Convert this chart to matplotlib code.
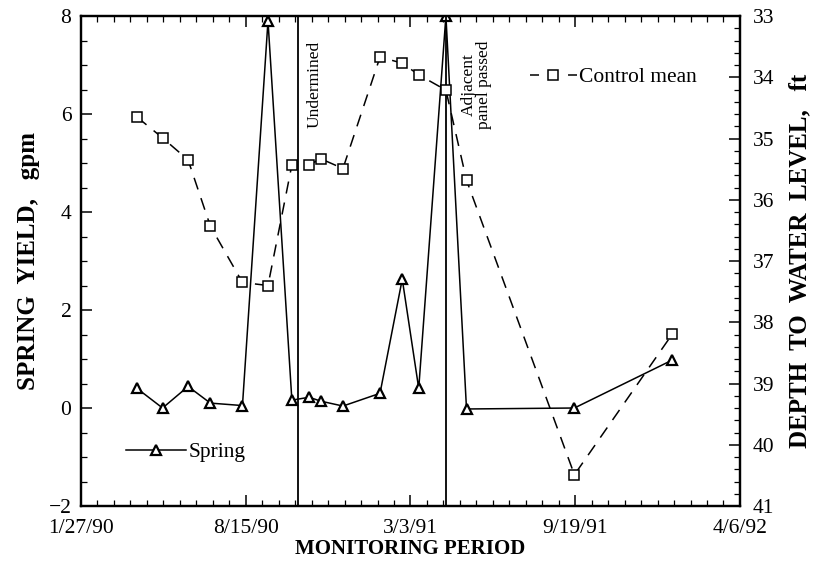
import numpy as np
import matplotlib.pyplot as plt
import matplotlib.dates as mdates
from matplotlib.ticker import FixedLocator, MultipleLocator
from matplotlib.lines import Line2D
from datetime import datetime, timedelta

plt.rcParams['font.family'] = ['Liberation Serif', 'DejaVu Serif']

# sampling dates (shared by both series)
dates = ['1990-04-05', '1990-05-06', '1990-06-06', '1990-07-03', '1990-08-11',
         '1990-09-11', '1990-10-10', '1990-10-31', '1990-11-14', '1990-12-11',
         '1991-01-25', '1991-02-21', '1991-03-13', '1991-04-15', '1991-05-10',
         '1991-09-18', '1992-01-15']
# spring yield, gpm
spring = [0.40, 0.00, 0.44, 0.10, 0.05, 7.90, 0.16, 0.22, 0.14, 0.04,
          0.30, 2.63, 0.40, 8.00, -0.02, 0.00, 0.98]
# control mean depth to water, ft
control = [34.65, 34.99, 35.35, 36.43, 37.35, 37.40, 35.43, 35.43, 35.33, 35.49,
           33.67, 33.77, 33.96, 34.21, 35.68, 40.49, 38.19]

tick_dates = ['1990-01-27', '1990-08-15', '1991-03-03', '1991-09-19', '1992-04-06']
tick_labels = ['1/27/90', '8/15/90', '3/3/91', '9/19/91', '4/6/92']
events = ['1990-10-17', '1991-04-15']
event_labels = ['Undermined', 'Adjacent\npanel passed']

d = [datetime.strptime(s, '%Y-%m-%d') for s in dates]
td = [datetime.strptime(s, '%Y-%m-%d') for s in tick_dates]
ev = [datetime.strptime(s, '%Y-%m-%d') for s in events]

fig = plt.figure(figsize=(8.2, 5.66), dpi=100)
ax = fig.add_axes([0.0988, 0.106, 0.8036, 0.8657])
ax2 = ax.twinx()

ax2.plot(d, control, color='black', lw=1.1, dashes=(8, 6), marker='s', ms=7.5,
         mfc='white', mec='black', mew=1.1)
ax.plot(d, spring, color='black', lw=1.1, marker='^', ms=7,
        mfc='white', mec='black', mew=1.6, label='Spring')

for e in ev:
    ax.axvline(e, color='black', lw=1.3)

ax.text(ev[0] + timedelta(days=21), 7.5, event_labels[0], rotation=90,
        ha='center', va='top', fontsize=12.5)
ax.text(ev[1] + timedelta(days=37), 7.5, event_labels[1], rotation=90,
        ha='center', va='top', fontsize=12.5, linespacing=0.95)

ax.set_xlim(td[0], td[-1])
ax.set_ylim(-2, 8)
ax2.set_ylim(41, 33)

ax.xaxis.set_major_locator(FixedLocator(mdates.date2num(td)))
ax.set_xticklabels(tick_labels)
start = mdates.date2num(td[0])
ax.xaxis.set_minor_locator(FixedLocator(start + np.arange(0, 801, 20)))
ax.yaxis.set_major_locator(MultipleLocator(2))
ax.yaxis.set_minor_locator(MultipleLocator(0.5))
ax2.yaxis.set_major_locator(MultipleLocator(1))
ax2.yaxis.set_minor_locator(MultipleLocator(0.2))

ax.tick_params(which='major', direction='in', length=8, width=1.1, labelsize=15.5,
               top=True)
ax.tick_params(axis='x', which='major', pad=9)
ax.tick_params(axis='y', which='major', pad=7)
ax.tick_params(which='minor', direction='in', length=4, width=0.9, top=True)
ax2.tick_params(which='major', direction='in', length=8, width=1.1, labelsize=15.5, pad=9)
ax2.tick_params(which='minor', direction='in', length=4, width=0.9)

for a in (ax, ax2):
    for s in a.spines.values():
        s.set_linewidth(1.6)

ax.set_xlabel('MONITORING PERIOD', fontsize=15, fontweight='bold', labelpad=1)
ax.set_ylabel('SPRING  YIELD,   gpm', fontsize=18, fontweight='bold', labelpad=6)
ax2.set_ylabel('DEPTH  TO  WATER  LEVEL,   ft', fontsize=18, fontweight='bold',
               labelpad=10)

ax.legend(loc='center left', bbox_to_anchor=(0.055, 0.11), frameon=False,
          fontsize=15.5, handlelength=2.8, handletextpad=0.1, borderaxespad=0)
ctrl_handle = Line2D([], [], color='black', lw=1.1, dashes=(5.9, 19), marker='s',
                     ms=7.5, mfc='white', mec='black', mew=1.1)
ax2.legend([ctrl_handle], ['Control mean'], loc='center left',
           bbox_to_anchor=(0.668, 0.875), frameon=False,
           fontsize=15.5, handlelength=2.2, handletextpad=0.1, borderaxespad=0)

fig.savefig('out.png', dpi=100)
